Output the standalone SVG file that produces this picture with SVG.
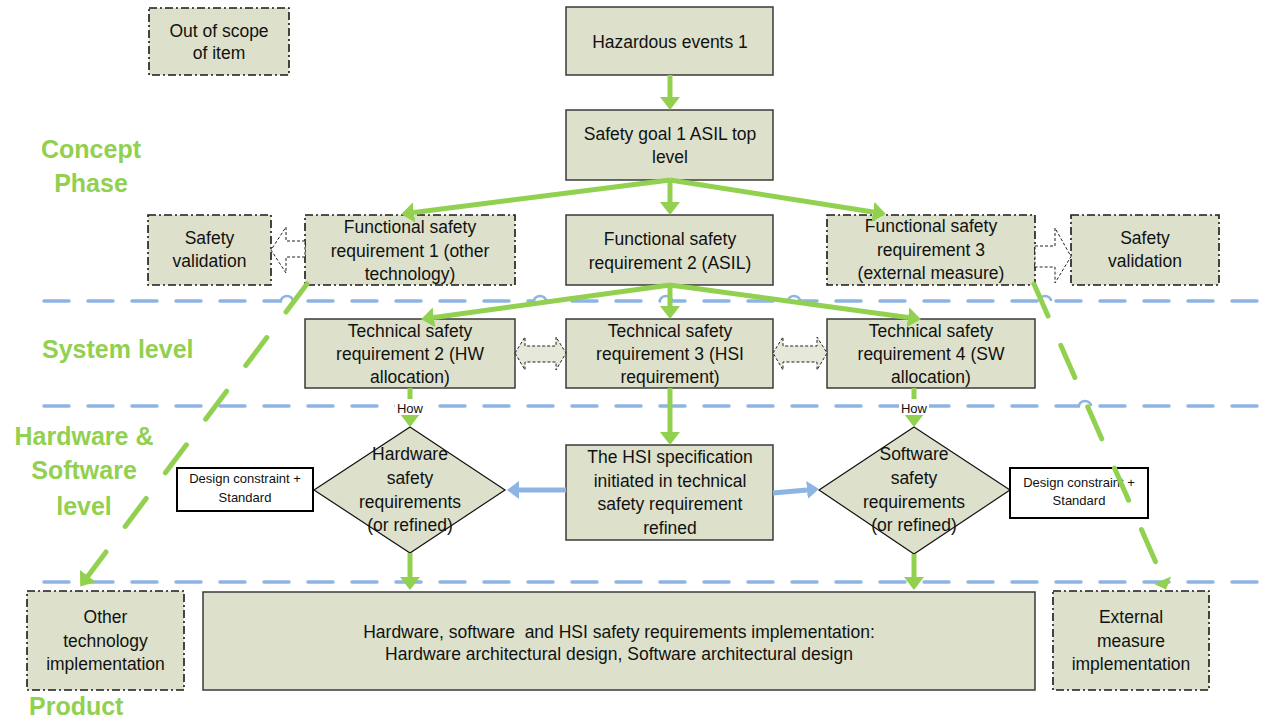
<svg xmlns="http://www.w3.org/2000/svg" width="1269" height="719" viewBox="0 0 1269 719">
<defs>
<marker id="ag" markerUnits="userSpaceOnUse" markerWidth="14" markerHeight="22" viewBox="0 -11 14 22" refX="0" refY="0" orient="auto"><path d="M0,-10 L13,0 L0,10 z" fill="#92D050"/></marker>
<marker id="ab" markerUnits="userSpaceOnUse" markerWidth="13" markerHeight="20" viewBox="0 -10 13 20" refX="0" refY="0" orient="auto"><path d="M0,-9 L12,0 L0,9 z" fill="#8EB4E3"/></marker>
</defs>
<style>
.box{fill:#DDE1CB;stroke:#3a3a3a;stroke-width:1.5}
.dbox{fill:#DDE1CB;stroke:#1a1a1a;stroke-width:1.6;stroke-dasharray:8 3 2 3}
.dia{fill:#DDE1CB;stroke:#111;stroke-width:1.2}
.wbox{fill:#fff;stroke:#000;stroke-width:2}
.t{font-family:"Liberation Sans",Arial,sans-serif;font-size:17.5px;fill:#111;text-anchor:middle}
.s{font-size:13px}
.ph{font-family:"Liberation Sans",Arial,sans-serif;font-weight:bold;font-size:25px;fill:#92D050}
.lane{stroke:#8EB4E3;stroke-width:3.5;stroke-dasharray:25 19;stroke-linecap:round;fill:none}
.hopbg{stroke:#fff;stroke-width:6;fill:none}
.hop{stroke:#8EB4E3;stroke-width:2.5;fill:none}
.g{stroke:#92D050;stroke-width:5;fill:none;marker-end:url(#ag)}
.gd{stroke:#92D050;stroke-width:5;fill:none;stroke-dasharray:35 32;stroke-linecap:round}
.b{stroke:#8EB4E3;stroke-width:5;fill:none;marker-end:url(#ab)}
.ho{fill:#fff;stroke:#222;stroke-width:1;stroke-dasharray:3 2}
.hd{fill:#E6E9DA;stroke:#222;stroke-width:1;stroke-dasharray:3 2}
</style>
<rect width="1269" height="719" fill="#fff"/>

<g id="lanes">
<path class="lane" d="M44,301 H1269"/>
<path class="lane" d="M44,406 H1269"/>
<path class="lane" d="M44,582 H1269"/>
<path class="hopbg" d="M282,301 h10 M535,301 h10 M661,301 h10 M789,301 h10 M1040,301 h10 M1080,406 h10"/>
<path class="hop" d="M281,301 a6,5 0 0 1 12,0"/>
<path class="hop" d="M534,301 a6,5 0 0 1 12,0"/>
<path class="hop" d="M660,301 a6,5 0 0 1 12,0"/>
<path class="hop" d="M788,301 a6,5 0 0 1 12,0"/>
<path class="hop" d="M1039,301 a6,5 0 0 1 12,0"/>
<path class="hop" d="M1079,406 a6,5 0 0 1 12,0"/>
</g>

<g id="labels">
<text class="ph" x="91" y="158" text-anchor="middle">Concept</text>
<text class="ph" x="91" y="192" text-anchor="middle">Phase</text>
<text class="ph" x="42" y="358">System level</text>
<text class="ph" x="84" y="445" text-anchor="middle">Hardware &amp;</text>
<text class="ph" x="84" y="479" text-anchor="middle">Software</text>
<text class="ph" x="84" y="515" text-anchor="middle">level</text>
<text class="ph" x="29" y="715">Product</text>
</g>

<g id="n-outofscope"><rect class="dbox" x="149" y="8" width="140" height="67"/>
<text class="t" x="219" y="37">Out of scope</text><text class="t" x="219" y="59">of item</text></g>

<g id="n-hazard"><rect class="box" x="566" y="7" width="207" height="68"/>
<text class="t" x="670" y="48">Hazardous events 1</text></g>

<g id="n-goal"><rect class="box" x="566" y="110" width="207" height="70"/>
<text class="t" x="670" y="140">Safety goal 1 ASIL top</text><text class="t" x="670" y="163">level</text></g>

<g id="n-sv1"><rect class="dbox" x="148" y="215" width="123" height="70"/>
<text class="t" x="209.5" y="244">Safety</text><text class="t" x="209.5" y="267">validation</text></g>

<g id="n-fsr1"><rect class="dbox" x="305" y="215" width="210" height="70"/>
<text class="t" x="410" y="233">Functional safety</text><text class="t" x="410" y="256.5">requirement 1 (other</text><text class="t" x="410" y="280">technology)</text></g>

<g id="n-fsr2"><rect class="box" x="566" y="215" width="207" height="70"/>
<text class="t" x="670" y="245">Functional safety</text><text class="t" x="670" y="268.5">requirement 2 (ASIL)</text></g>

<g id="n-fsr3"><rect class="dbox" x="827" y="215" width="208" height="70"/>
<text class="t" x="931" y="232">Functional safety</text><text class="t" x="931" y="255.5">requirement 3</text><text class="t" x="931" y="279">(external measure)</text></g>

<g id="n-sv2"><rect class="dbox" x="1071" y="215" width="148" height="70"/>
<text class="t" x="1145" y="244">Safety</text><text class="t" x="1145" y="267">validation</text></g>

<g id="n-tsr2"><rect class="box" x="305" y="319" width="210" height="69"/>
<text class="t" x="410" y="337">Technical safety</text><text class="t" x="410" y="360">requirement 2 (HW</text><text class="t" x="410" y="383">allocation)</text></g>

<g id="n-tsr3"><rect class="box" x="566" y="319" width="207" height="69"/>
<text class="t" x="670" y="337">Technical safety</text><text class="t" x="670" y="360">requirement 3 (HSI</text><text class="t" x="670" y="383">requirement)</text></g>

<g id="n-tsr4"><rect class="box" x="827" y="319" width="208" height="69"/>
<text class="t" x="931" y="337">Technical safety</text><text class="t" x="931" y="360">requirement 4 (SW</text><text class="t" x="931" y="383">allocation)</text></g>

<g id="n-dc1"><rect class="wbox" x="177" y="468" width="136" height="43"/>
<text class="t s" x="245" y="483">Design constraint +</text><text class="t s" x="245" y="502">Standard</text></g>

<g id="n-hwsr"><path class="dia" d="M410,427 L505,490 L410,553 L314,490 Z"/>
<text class="t" x="410" y="460">Hardware</text><text class="t" x="410" y="484">safety</text><text class="t" x="410" y="507.5">requirements</text><text class="t" x="410" y="531">(or refined)</text></g>

<g id="n-hsi"><rect class="box" x="566" y="445" width="207" height="95"/>
<text class="t" x="670" y="463">The HSI specification</text><text class="t" x="670" y="486.5">initiated in technical</text><text class="t" x="670" y="510">safety requirement</text><text class="t" x="670" y="533.5">refined</text></g>

<g id="n-swsr"><path class="dia" d="M914,427 L1010,490 L914,554 L819,490 Z"/>
<text class="t" x="914" y="460">Software</text><text class="t" x="914" y="484">safety</text><text class="t" x="914" y="507.5">requirements</text><text class="t" x="914" y="531">(or refined)</text></g>

<g id="n-dc2"><rect class="wbox" x="1010" y="468" width="138" height="50"/>
<text class="t s" x="1079" y="487">Design constraint +</text><text class="t s" x="1079" y="505">Standard</text></g>

<g id="n-other"><rect class="dbox" x="27" y="591" width="157" height="99"/>
<text class="t" x="105.5" y="623">Other</text><text class="t" x="105.5" y="647">technology</text><text class="t" x="105.5" y="670">implementation</text></g>

<g id="n-impl"><rect class="box" x="203" y="592" width="832" height="98"/>
<text class="t" x="619" y="638" xml:space="preserve" style="white-space:pre">Hardware, software  and HSI safety requirements implementation:</text>
<text class="t" x="619" y="660">Hardware architectural design, Software architectural design</text></g>

<g id="n-ext"><rect class="dbox" x="1053" y="591" width="156" height="99"/>
<text class="t" x="1131" y="623">External</text><text class="t" x="1131" y="647">measure</text><text class="t" x="1131" y="670">implementation</text></g>

<g id="connectors">
<path class="g" d="M670,75 V97"/>
<path class="g" d="M670,180 V202"/>
<path class="g" d="M670,180 L414,212.5"/>
<path class="g" d="M670,180 L873,212"/>
<path class="g" d="M670,285 V306"/>
<path class="g" d="M670,285 L434,317.4"/>
<path class="g" d="M670,285 L908,317.4"/>
<path class="g" d="M670,388 V432"/>
<path class="g" d="M410,388 V414"/>
<path class="g" d="M914,388 V414"/>
<path class="g" d="M410,553 V577"/>
<path class="g" d="M914,554 V577"/>
<path class="b" d="M566,490 H519"/>
<path class="b" d="M773,493 L807,490"/>
<path class="gd" d="M307,284 L88,576" style="marker-end:url(#ag)"/>
<path class="gd" d="M1034,284 L1160,572"/>
<polygon points="1154,584 1171,576.5 1166,589.5" fill="#92D050"/>
<polygon class="ho" points="305,241 286,241 286,227 271,250 286,273 286,257 305,257"/>
<polygon class="ho" points="1035,246 1055,246 1055,228 1071,256.5 1055,283 1055,267 1035,267"/>
<polygon class="hd" points="515,353 525,337 525,346 556,346 556,337 566,353 556,370 556,362 525,362 525,370"/>
<polygon class="hd" points="773,353 783,337 783,346 817,346 817,337 827,353 817,370 817,362 783,362 783,370"/>
</g>

<g id="how-labels">
<rect x="395" y="399" width="30" height="16" fill="#fff"/>
<text class="t s" x="410" y="413">How</text>
<rect x="899" y="399" width="30" height="16" fill="#fff"/>
<text class="t s" x="914" y="413">How</text>
</g>
</svg>
